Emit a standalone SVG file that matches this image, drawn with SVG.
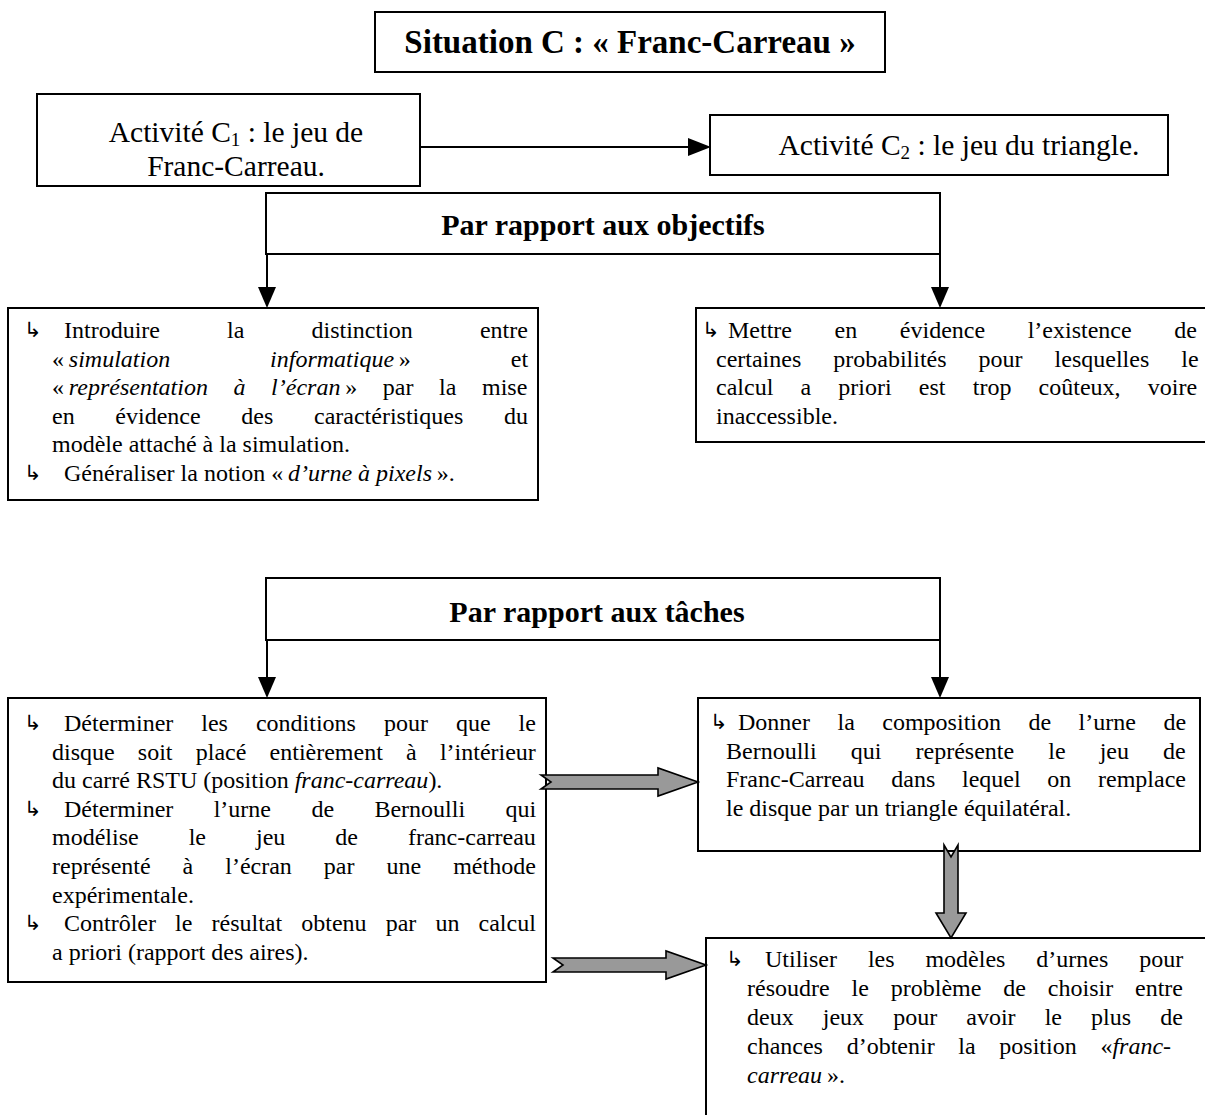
<svg xmlns="http://www.w3.org/2000/svg" width="1205" height="1115" viewBox="0 0 1205 1115">
  <style>
    .box { fill: #fff; stroke: #000; stroke-width: 2; }
    .ln { fill: none; stroke: #000; stroke-width: 2; }
    .head { fill: #000; stroke: none; }
    .gray { fill: #999; stroke: #000; stroke-width: 1.6; stroke-linejoin: miter; }
    text { font-family: "Liberation Serif", "Times New Roman", serif; fill: #000; }
    .t { font-size: 24px; }
    .h { font-size: 30px; font-weight: bold; text-anchor: middle; }
    .ttl { font-size: 33px; font-weight: bold; text-anchor: middle; }
    .a { font-size: 29.5px; text-anchor: middle; }
    .i { font-style: italic; }
    .bul { font-family: "DejaVu Sans", sans-serif; font-size: 21px; }
  </style>

  <rect width="1205" height="1115" fill="#fff"/>

  <!-- title -->
  <g id="title">
    <rect class="box" x="375" y="12" width="510" height="60"/>
    <text class="ttl" x="630" y="53">Situation C : « Franc-Carreau »</text>
  </g>

  <!-- activities -->
  <g id="activite-c1">
    <rect class="box" x="37" y="94" width="383" height="92"/>
    <text class="a" x="236" y="142">Activité C<tspan font-size="19" dy="4">1</tspan><tspan dy="-4"> : le jeu de</tspan></text>
    <text class="a" x="236" y="176">Franc-Carreau.</text>
  </g>
  <g id="activite-c2">
    <rect class="box" x="710" y="115" width="458" height="60"/>
    <text class="a" x="959" y="155">Activité C<tspan font-size="19" dy="4">2</tspan><tspan dy="-4"> : le jeu du triangle.</tspan></text>
  </g>

  <!-- objectives -->
  <g id="objectifs">
    <rect class="box" x="266" y="193" width="674" height="61"/>
    <text class="h" x="603" y="235">Par rapport aux objectifs</text>
  </g>

  <g id="objectif-gauche">
    <rect class="box" x="8" y="308" width="530" height="192"/>
    <text class="bul" x="24" y="337">↳</text>
    <text class="t" x="64" y="338" word-spacing="61.1">Introduire la distinction entre</text>
    <text class="t" x="52" y="366.5" word-spacing="93.9">«&#8201;<tspan class="i">simulation informatique</tspan>&#8201;» et</text>
    <text class="t" x="52" y="395" word-spacing="19.6">«&#8201;<tspan class="i">représentation à l’écran</tspan>&#8201;» par la mise</text>
    <text class="t" x="52" y="423.5" word-spacing="34.7">en évidence des caractéristiques du</text>
    <text class="t" x="52" y="452">modèle attaché à la simulation.</text>
    <text class="bul" x="24" y="479.5">↳</text>
    <text class="t" x="64" y="480.5">Généraliser la notion «&#8201;<tspan class="i">d’urne à pixels</tspan>&#8201;».</text>
  </g>

  <g id="objectif-droite">
    <rect class="box" x="696" y="308" width="520" height="134"/>
    <text class="bul" x="702" y="337">↳</text>
    <text class="t" x="728" y="338" word-spacing="36.6">Mettre en évidence l’existence de</text>
    <text class="t" x="716" y="366.5" word-spacing="26">certaines probabilités pour lesquelles le</text>
    <text class="t" x="716" y="395" word-spacing="21.2">calcul a priori est trop coûteux, voire</text>
    <text class="t" x="716" y="423.5">inaccessible.</text>
  </g>

  <!-- tasks -->
  <g id="taches">
    <rect class="box" x="266" y="578" width="674" height="62"/>
    <text class="h" x="597" y="622" font-size="31.5">Par rapport aux tâches</text>
  </g>

  <g id="tache-gauche">
    <rect class="box" x="8" y="698" width="538" height="284"/>
    <text class="bul" x="24" y="730">↳</text>
    <text class="t" x="64" y="731" word-spacing="22">Déterminer les conditions pour que le</text>
    <text class="t" x="52" y="759.6" word-spacing="17.2">disque soit placé entièrement à l’intérieur</text>
    <text class="t" x="52" y="788.2">du carré RSTU (position <tspan class="i">franc-carreau</tspan>).</text>
    <text class="bul" x="24" y="815.8">↳</text>
    <text class="t" x="64" y="816.8" word-spacing="34.4">Déterminer l’urne de Bernoulli qui</text>
    <text class="t" x="52" y="845.4" word-spacing="44">modélise le jeu de franc-carreau</text>
    <text class="t" x="52" y="874" word-spacing="26">représenté à l’écran par une méthode</text>
    <text class="t" x="52" y="902.6">expérimentale.</text>
    <text class="bul" x="24" y="930.2">↳</text>
    <text class="t" x="64" y="931.2" word-spacing="13.1">Contrôler le résultat obtenu par un calcul</text>
    <text class="t" x="52" y="959.8">a priori (rapport des aires).</text>
  </g>

  <g id="tache-droite">
    <rect class="box" x="698" y="698" width="502" height="153"/>
    <text class="bul" x="710" y="729">↳</text>
    <text class="t" x="738" y="730" word-spacing="21.5">Donner la composition de l’urne de</text>
    <text class="t" x="726" y="758.6" word-spacing="28.1">Bernoulli qui représente le jeu de</text>
    <text class="t" x="726" y="787.2" word-spacing="20.7">Franc-Carreau dans lequel on remplace</text>
    <text class="t" x="726" y="815.8">le disque par un triangle équilatéral.</text>
  </g>

  <g id="tache-bas">
    <rect class="box" x="706" y="938" width="520" height="200"/>
    <text class="bul" x="726" y="966">↳</text>
    <text class="t" x="765" y="967" word-spacing="24.9">Utiliser les modèles d’urnes pour</text>
    <text class="t" x="747" y="996" word-spacing="15.9">résoudre le problème de choisir entre</text>
    <text class="t" x="747" y="1025" word-spacing="23.1">deux jeux pour avoir le plus de</text>
    <text class="t" x="747" y="1054" word-spacing="17.7">chances d’obtenir la position «<tspan class="i">franc-</tspan></text>
    <text class="t" x="747" y="1083"><tspan class="i">carreau</tspan>&#8201;».</text>
  </g>

  <!-- connectors -->
  <g id="connecteurs">
    <line class="ln" x1="420" y1="147" x2="690" y2="147"/>
    <polygon class="head" points="688,138 711,147 688,156"/>

    <line class="ln" x1="267" y1="254" x2="267" y2="290"/>
    <polygon class="head" points="258,287 276,287 267,308"/>
    <line class="ln" x1="940" y1="254" x2="940" y2="290"/>
    <polygon class="head" points="931,287 949,287 940,308"/>

    <line class="ln" x1="267" y1="640" x2="267" y2="680"/>
    <polygon class="head" points="258,677 276,677 267,698"/>
    <line class="ln" x1="940" y1="640" x2="940" y2="680"/>
    <polygon class="head" points="931,677 949,677 940,698"/>

    <polygon class="gray" points="541,775 658,775 658,768 698,782 658,796 658,789 541,789 551,782"/>
    <polygon class="gray" points="553,958 666,958 666,951 706,965 666,979 666,972 553,972 563,965"/>
    <polygon class="gray" points="944,845 951,857 958,845 958,913 966,913 951,938 936,913 944,913"/>
  </g>
</svg>
